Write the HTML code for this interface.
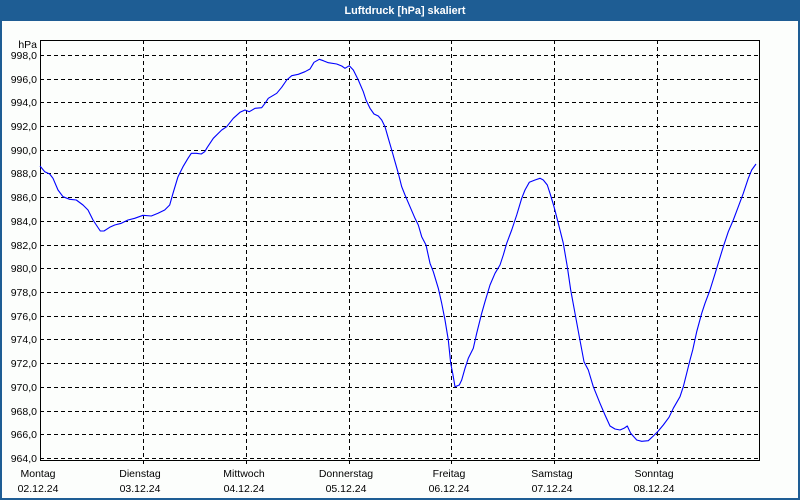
<!DOCTYPE html>
<html><head><meta charset="utf-8"><style>
html,body{margin:0;padding:0;background:#fdfefd;}
svg{display:block;}
text{font-family:"Liberation Sans","DejaVu Sans",sans-serif;}
</style></head><body>
<svg width="800" height="500" viewBox="0 0 800 500" xmlns="http://www.w3.org/2000/svg">
<rect x="0" y="0" width="800" height="500" fill="#1e5d94"/>
<rect x="2" y="21" width="796" height="477" fill="#fcfefc"/>
<text x="405" y="14" fill="#ffffff" font-size="11" font-weight="bold" text-anchor="middle" textLength="121" lengthAdjust="spacingAndGlyphs">Luftdruck [hPa] skaliert</text>
<g stroke="#000" stroke-width="1" stroke-dasharray="4 3" fill="none">
<path d="M40 55.5H760M40 79.5H760M40 102.5H760M40 126.5H760M40 150.5H760M40 173.5H760M40 197.5H760M40 221.5H760M40 245.5H760M40 268.5H760M40 292.5H760M40 316.5H760M40 339.5H760M40 363.5H760M40 387.5H760M40 411.5H760M40 434.5H760M40 458.5H760"/>
<path d="M143.5 40V465M246.5 40V465M349.5 40V465M451.5 40V465M554.5 40V465M657.5 40V465"/>
</g>
<rect x="40.5" y="40.5" width="719" height="420" fill="none" stroke="#000" stroke-width="1"/>
<g font-size="10.5" fill="#000" text-anchor="end">
<text x="37" y="48">hPa</text>
<text x="37" y="59">998,0</text>
<text x="37" y="83">996,0</text>
<text x="37" y="106">994,0</text>
<text x="37" y="130">992,0</text>
<text x="37" y="154">990,0</text>
<text x="37" y="177">988,0</text>
<text x="37" y="201">986,0</text>
<text x="37" y="225">984,0</text>
<text x="37" y="249">982,0</text>
<text x="37" y="272">980,0</text>
<text x="37" y="296">978,0</text>
<text x="37" y="320">976,0</text>
<text x="37" y="343">974,0</text>
<text x="37" y="367">972,0</text>
<text x="37" y="391">970,0</text>
<text x="37" y="415">968,0</text>
<text x="37" y="438">966,0</text>
<text x="37" y="462">964,0</text>
</g>
<g font-size="10.5" fill="#000" text-anchor="middle">
<text x="38" y="477">Montag</text><text x="38" y="492">02.12.24</text>
<text x="140" y="477">Dienstag</text><text x="140" y="492">03.12.24</text>
<text x="244" y="477">Mittwoch</text><text x="244" y="492">04.12.24</text>
<text x="346" y="477">Donnerstag</text><text x="346" y="492">05.12.24</text>
<text x="449" y="477">Freitag</text><text x="449" y="492">06.12.24</text>
<text x="552" y="477">Samstag</text><text x="552" y="492">07.12.24</text>
<text x="654" y="477">Sonntag</text><text x="654" y="492">08.12.24</text>
</g>
<polyline fill="none" stroke="#0000ff" stroke-width="1.1" stroke-linejoin="round" points="40,166 44.7,171.7 49.7,174 53,178.3 58,190 63,196.7 69.7,199.3 76.3,200 83,205 88,210 93,220 96.3,225 100.3,231 104,231 109.7,227.3 114.7,225 121.3,223.3 128,220 134.7,218.3 143,215.3 151.3,216 158,213.3 164.7,210 169.7,205 173,193.3 178,176.7 183,166.7 188,158.3 191.3,153.3 196.3,153.3 201.3,154 204.7,151.7 207.3,147.3 213.3,138.3 221.7,130 226.7,126.7 233.3,118.3 240,112.3 245,110 249.3,111.7 255,108.3 261.7,107.7 265,103.3 268.3,98.3 276.7,93.3 281.7,87.3 286.7,80 291.7,75.7 298.3,74.3 305,71.7 310,69 314,62.3 319.3,59.3 323.3,60.7 328.3,62.7 336.7,64 341.7,66 345,68.3 349.3,65.7 353.3,70 358.3,80 363.3,91.7 366,100 370,108.3 374,114 378.3,116 381.7,120 385,126.7 388.3,138.3 391.7,150 395,161.7 398.3,173.3 401.7,186.7 405,195 410,206.7 415,218.3 418.3,225 421.7,236.7 426,245 430,263.3 433.3,271.7 438.3,288.3 441.7,303.3 445,320 448.3,340 450.7,363.3 452.7,373.3 455,386.7 459.3,385 461.7,380 465,368.3 468.3,358.3 473.3,348.3 476.7,333.3 481.7,313.3 485,301.7 490,285 495,273.3 500,265 503.3,255 506.7,243.3 511.7,230 516.7,215 521.7,198.3 525,190 529.3,182.3 535,180 540,178.3 543.3,180 547.3,185 550,193.3 554,206.7 558.3,223.3 563.3,243.3 567.3,266.7 570.7,290 575,313.3 579.3,336.7 584,361.7 588.3,370 593.3,386.7 600,403.3 605,415 610,426 615,429 620,430 624,428.3 627.3,426 630.7,433.3 636.7,440 641.7,441.3 648.3,440.7 653.3,436 658.3,431 663.3,425 669,417.3 673.3,408.3 680,396.7 683.3,386.7 686.7,373.3 690,360 692.7,350 696.7,331.7 701.7,313.3 705,303.3 710,290 716.7,268.3 723.3,246.7 728.3,231.7 733.3,220 738.3,206.7 743.3,193.3 748.3,178.3 751.7,170 756,164"/>
</svg>
</body></html>
